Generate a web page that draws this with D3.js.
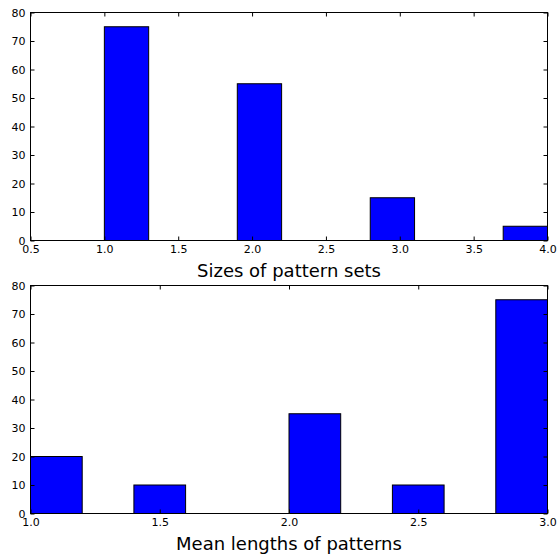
<!DOCTYPE html>
<html>
<head>
<meta charset="utf-8">
<script src="https://cdn.jsdelivr.net/npm/d3@7"></script>
<style>
  html, body { margin: 0; padding: 0; background: #fff; }
  svg { display: block; }
  text { font-family: "DejaVu Sans", sans-serif; fill: #000; }
</style>
</head>
<body>
<svg id="chart" width="558" height="554"></svg>
<script>
// Histogram of pattern-set sizes (bins of width 0.3 from 1.0 to 4.0)
const sizeBinStart = [1.0, 1.3, 1.6, 1.9, 2.2, 2.5, 2.8, 3.1, 3.4, 3.7];
const sizeBinWidth = 0.3;
const sizeCounts   = [75, 0, 0, 55, 0, 0, 15, 0, 0, 5];
const sizeXTicks   = [0.5, 1.0, 1.5, 2.0, 2.5, 3.0, 3.5, 4.0];
const sizeYTicks   = [0, 10, 20, 30, 40, 50, 60, 70, 80];

// Histogram of mean pattern lengths (bins of width 0.2 from 1.0 to 3.0)
const lenBinStart = [1.0, 1.2, 1.4, 1.6, 1.8, 2.0, 2.2, 2.4, 2.6, 2.8];
const lenBinWidth = 0.2;
const lenCounts   = [20, 0, 10, 0, 0, 35, 0, 10, 0, 75];
const lenXTicks   = [1.0, 1.5, 2.0, 2.5, 3.0];
const lenYTicks   = [0, 10, 20, 30, 40, 50, 60, 70, 80];

const svg = d3.select("#chart");

function panel(opts) {
  const { left, right, top, bottom, xDomain, xTicks, yTicks, starts, width, counts, label } = opts;
  const x = d3.scaleLinear().domain(xDomain).range([left, right]);
  const y = d3.scaleLinear().domain([0, 80]).range([bottom, top]);
  const g = svg.append("g");

  // bars
  g.selectAll("rect.bar")
    .data(starts.map((s, i) => ({ s, c: counts[i] })).filter(d => d.c > 0))
    .join("rect")
    .attr("class", "bar")
    .attr("x", d => x(d.s))
    .attr("y", d => y(d.c))
    .attr("width", d => x(d.s + width) - x(d.s))
    .attr("height", d => y(0) - y(d.c))
    .attr("fill", "#0000ff")
    .attr("stroke", "#000")
    .attr("stroke-width", 1);

  const fmt = d3.format(".1f");
  // bottom axis: ticks point inward
  g.append("g").attr("transform", `translate(0,${bottom})`)
    .call(d3.axisBottom(x).tickValues(xTicks).tickFormat(fmt).tickSizeInner(-4).tickSizeOuter(0).tickPadding(5))
    .call(a => a.select(".domain").remove())
    .call(a => a.selectAll("text").attr("font-size", 11).attr("font-family", "DejaVu Sans").attr("fill", "#111"));
  // top axis: inward ticks, no labels
  g.append("g").attr("transform", `translate(0,${top})`)
    .call(d3.axisTop(x).tickValues(xTicks).tickFormat("").tickSizeInner(-4).tickSizeOuter(0))
    .call(a => a.select(".domain").remove());
  // left axis
  g.append("g").attr("transform", `translate(${left},0)`)
    .call(d3.axisLeft(y).tickValues(yTicks).tickFormat(d3.format("d")).tickSizeInner(-4).tickSizeOuter(0).tickPadding(5))
    .call(a => a.select(".domain").remove())
    .call(a => a.selectAll("text").attr("font-size", 11).attr("font-family", "DejaVu Sans").attr("fill", "#111"));
  // right axis
  g.append("g").attr("transform", `translate(${right},0)`)
    .call(d3.axisRight(y).tickValues(yTicks).tickFormat("").tickSizeInner(-4).tickSizeOuter(0))
    .call(a => a.select(".domain").remove());

  g.selectAll(".tick line").attr("stroke", "#000");

  // frame
  g.append("rect")
    .attr("x", left).attr("y", top)
    .attr("width", right - left).attr("height", bottom - top)
    .attr("fill", "none").attr("stroke", "#000").attr("stroke-width", 1);

  g.append("text")
    .attr("x", (left + right) / 2)
    .attr("y", bottom + 36)
    .attr("text-anchor", "middle")
    .attr("font-size", 18)
    .attr("fill", "#111")
    .text(label);
}

panel({
  left: 30.5, right: 547.5, top: 12.5, bottom: 240.5,
  xDomain: [0.5, 4.0], xTicks: sizeXTicks, yTicks: sizeYTicks,
  starts: sizeBinStart, width: sizeBinWidth, counts: sizeCounts,
  label: "Sizes of pattern sets"
});

panel({
  left: 30.5, right: 547.5, top: 285.5, bottom: 513.5,
  xDomain: [1.0, 3.0], xTicks: lenXTicks, yTicks: lenYTicks,
  starts: lenBinStart, width: lenBinWidth, counts: lenCounts,
  label: "Mean lengths of patterns"
});
</script>
</body>
</html>
